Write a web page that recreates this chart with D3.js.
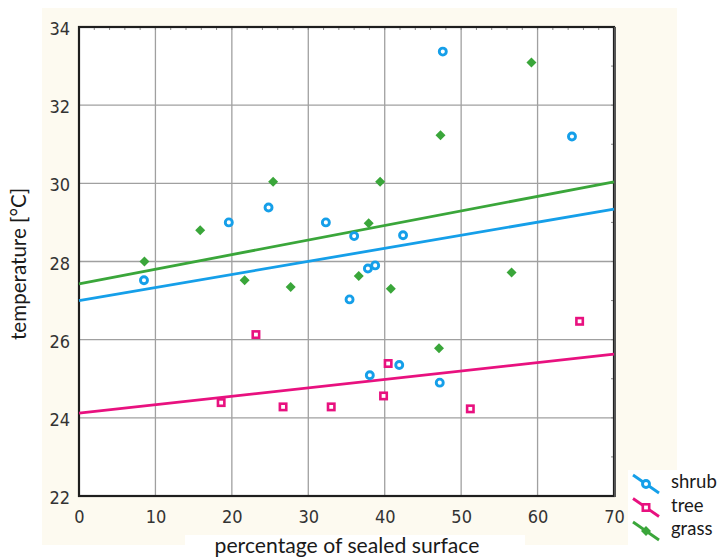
<!DOCTYPE html>
<html>
<head>
<meta charset="utf-8">
<script src="https://cdn.jsdelivr.net/npm/d3@7"></script>
<style>
  html, body { margin: 0; padding: 0; background: #ffffff; }
  svg { display: block; }
</style>
</head>
<body>
<svg id="chart" width="722" height="558"></svg>
<script>
// ---- data ----
const xTicks = [0, 10, 20, 30, 40, 50, 60, 70];
const yTicks = [22, 24, 26, 28, 30, 32, 34];

const seriesNames = ["shrub", "tree", "grass"];
const seriesColors = ["#159fe9", "#e8117f", "#3aa63a"];

const shrubX = [8.5, 19.6, 24.8, 32.3, 36.0, 42.4, 37.8, 38.75, 35.4, 38.05, 41.9, 47.2, 47.6, 64.5];
const shrubY = [27.52, 29.0, 29.38, 29.0, 28.65, 28.67, 27.82, 27.9, 27.03, 25.09, 25.35, 24.9, 33.37, 31.2];

const treeX = [18.6, 23.15, 26.7, 33.0, 40.45, 39.85, 51.2, 65.5];
const treeY = [24.39, 26.13, 24.28, 24.28, 25.39, 24.56, 24.23, 26.47];

const grassX = [8.56, 15.86, 25.4, 21.67, 27.7, 37.9, 39.4, 36.6, 40.8, 47.3, 59.2, 56.6, 47.1];
const grassY = [28.0, 28.8, 30.04, 27.52, 27.35, 28.98, 30.04, 27.63, 27.3, 31.23, 33.09, 27.72, 25.78];

// fitted lines: value at x = 0 and at x = 70
const fitX = [0, 70];
const fitShrub = [27.0, 29.34];
const fitTree = [24.12, 25.63];
const fitGrass = [27.43, 30.04];

// ---- layout ----
const svg = d3.select("#chart");
const pL = 79, pR = 614, pT = 27, pB = 496;

const x = d3.scaleLinear().domain([0, 70]).range([pL, pR]);
const y = d3.scaleLinear().domain([22, 34]).range([pB, pT]);

// cream panel with white cut-outs
svg.append("rect").attr("x", 42).attr("y", 8).attr("width", 635).attr("height", 537).attr("fill", "#fdfaf0");
svg.append("rect").attr("x", 185).attr("y", 535).attr("width", 340).attr("height", 23).attr("fill", "#ffffff");
svg.append("rect").attr("x", 628).attr("y", 470).attr("width", 94).attr("height", 88).attr("fill", "#ffffff");

// plot background
svg.append("rect").attr("x", pL).attr("y", pT).attr("width", pR - pL).attr("height", pB - pT).attr("fill", "#ffffff");

// grid
const grid = svg.append("g");
grid.selectAll(".gx").data(xTicks.slice(1, -1)).join("line")
  .attr("x1", d => x(d)).attr("x2", d => x(d)).attr("y1", pT).attr("y2", pB)
  .attr("stroke", "#a0a0a0").attr("stroke-width", 1.3);
grid.selectAll(".gy").data(yTicks.slice(1, -1)).join("line")
  .attr("x1", pL).attr("x2", pR).attr("y1", d => y(d)).attr("y2", d => y(d))
  .attr("stroke", "#a0a0a0").attr("stroke-width", 1.3);

// minor ticks on top and right edges
const minorX = d3.range(0, 70.01, 2);
svg.append("g").selectAll("line").data(minorX).join("line")
  .attr("x1", d => x(d)).attr("x2", d => x(d)).attr("y1", pT).attr("y2", pT + 3)
  .attr("stroke", "#8a8a8a").attr("stroke-width", 1);
const minorY = d3.range(22, 34.01, 1);
svg.append("g").selectAll("line").data(minorY).join("line")
  .attr("x1", pR - 3).attr("x2", pR).attr("y1", d => y(d)).attr("y2", d => y(d))
  .attr("stroke", "#8a8a8a").attr("stroke-width", 1);

// frame
svg.append("rect").attr("x", pL).attr("y", pT).attr("width", pR - pL).attr("height", pB - pT)
  .attr("fill", "none").attr("stroke", "#1e1e1e").attr("stroke-width", 2.2);
svg.append("line").attr("x1", pR + 1).attr("x2", pR + 1).attr("y1", pT).attr("y2", pB + 1)
  .attr("stroke", "#555").attr("stroke-width", 2);

// axes (labels only)
const tickFont = "'Liberation Sans Narrow', 'DejaVu Sans Condensed', 'Arial Narrow', sans-serif";
const xAxis = svg.append("g").attr("transform", `translate(0,${pB})`)
  .call(d3.axisBottom(x).tickValues(xTicks).tickSize(0).tickPadding(14).tickFormat(d3.format("d")));
xAxis.select(".domain").remove();
xAxis.selectAll("text").attr("font-family", tickFont).attr("font-size", 18).attr("fill", "#333333");

const yAxis = svg.append("g").attr("transform", `translate(${pL},0)`)
  .call(d3.axisLeft(y).tickValues(yTicks).tickSize(0).tickPadding(9).tickFormat(d3.format("d")));
yAxis.select(".domain").remove();
yAxis.selectAll("text").attr("font-family", tickFont).attr("font-size", 18).attr("fill", "#333333")
  .attr("dy", "0.42em");

// axis titles
const titleFont = "Lato, 'Open Sans', sans-serif";
const xt = svg.append("text").attr("x", 347).attr("y", 553).attr("text-anchor", "middle")
  .attr("font-family", titleFont).attr("font-size", 19).attr("fill", "#1a1a1a")
  .text("percentage of sealed surface");
const yt = svg.append("text").attr("transform", "translate(26,264) rotate(-90)").attr("text-anchor", "middle")
  .attr("font-family", titleFont).attr("font-size", 18).attr("fill", "#1a1a1a")
  .text("temperature [°C]");
function fitWidth(sel, target) {
  const w = sel.node().getComputedTextLength();
  const fs = +sel.attr("font-size");
  if (w > 0) sel.attr("font-size", (fs * target / w).toFixed(2));
}
fitWidth(xt, 265);
fitWidth(yt, 152);

// fitted lines
const fits = [fitShrub, fitTree, fitGrass];
const lineGen = d3.line().x(d => x(d[0])).y(d => y(d[1]));
[1, 0, 2].forEach(i => {
  svg.append("path")
    .datum(fitX.map((xv, k) => [xv, fits[i][k]]))
    .attr("d", lineGen).attr("fill", "none")
    .attr("stroke", seriesColors[i]).attr("stroke-width", 2.8);
});

// markers
const symDiamond = d3.symbol().type(d3.symbolSquare).size(50);
function drawMarker(g, type, color) {
  if (type === "shrub") {
    g.append("circle").attr("r", 3.5).attr("fill", "#fff").attr("stroke", color).attr("stroke-width", 2.9);
  } else if (type === "tree") {
    g.append("rect").attr("x", -3.2).attr("y", -3.2).attr("width", 6.4).attr("height", 6.4)
      .attr("fill", "#fff").attr("stroke", color).attr("stroke-width", 2.6);
  } else {
    g.append("path").attr("d", symDiamond()).attr("transform", "rotate(45)").attr("fill", color);
  }
}
const seriesData = [
  d3.zip(shrubX, shrubY),
  d3.zip(treeX, treeY),
  d3.zip(grassX, grassY)
];
[1, 0, 2].forEach(i => {
  const g = svg.append("g");
  seriesData[i].forEach(p => {
    const m = g.append("g").attr("transform", `translate(${x(p[0])},${y(p[1])})`);
    drawMarker(m, seriesNames[i], seriesColors[i]);
  });
});

// legend
const legend = svg.append("g");
seriesNames.forEach((name, i) => {
  const cy = 484 + i * 23.5;
  const row = legend.append("g").attr("transform", `translate(646,${cy})`);
  row.append("line").attr("x1", -13).attr("y1", -9).attr("x2", 13).attr("y2", 9)
    .attr("stroke", seriesColors[i]).attr("stroke-width", 2.8);
  drawMarker(row, name, seriesColors[i]);
  legend.append("text").attr("x", 671).attr("y", cy + 4)
    .attr("font-family", titleFont).attr("font-size", 18.5).attr("fill", "#1a1a1a").text(name);
});
</script>
</body>
</html>
